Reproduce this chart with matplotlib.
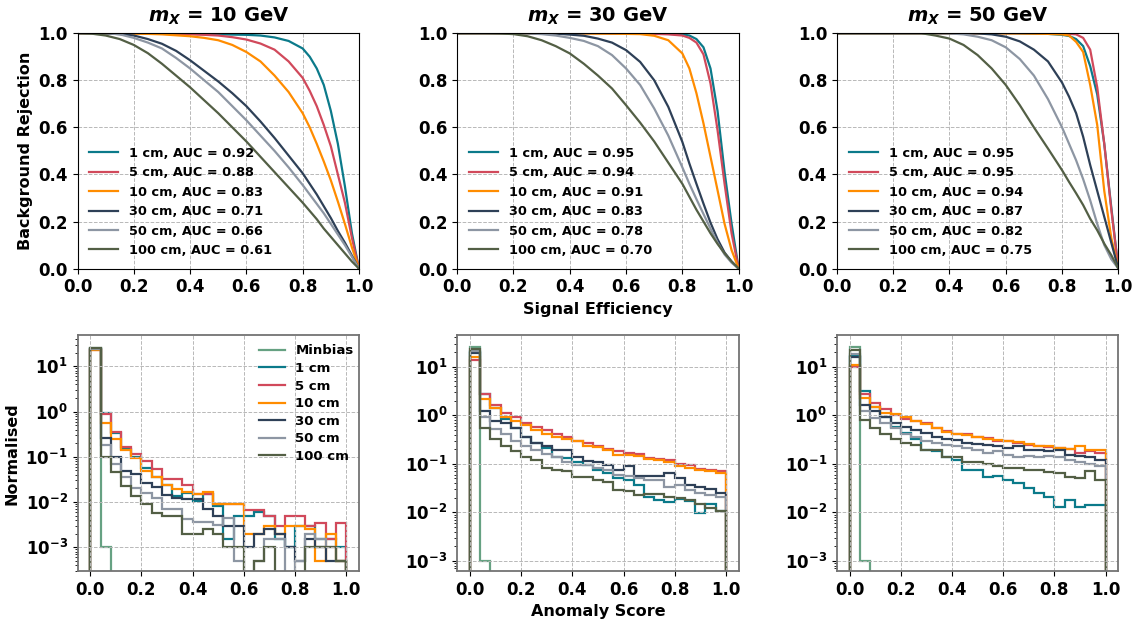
import numpy as np
import matplotlib
matplotlib.use("Agg")
import matplotlib.pyplot as plt

plt.rcParams['font.family'] = ['DejaVu Sans']
plt.rcParams['font.weight'] = 'bold'
plt.rcParams['axes.labelweight'] = 'bold'
plt.rcParams['axes.titleweight'] = 'bold'
plt.rcParams['mathtext.fontset'] = 'custom'
plt.rcParams['mathtext.it'] = 'DejaVu Sans:italic:bold'
plt.rcParams['mathtext.rm'] = 'DejaVu Sans:bold'

masses = [10, 30, 50]
lifetimes = ["1 cm", "5 cm", "10 cm", "30 cm", "50 cm", "100 cm"]
colors = ["#0b7a8a", "#d1495b", "#ff8c00", "#2e4057", "#8d96a3", "#535f45"]
minbias_color = "#66a182"

# signal efficiency points where the ROC curves were read
eff = [0, 0.05, 0.1, 0.15, 0.2, 0.25, 0.3, 0.35, 0.4, 0.45, 0.5, 0.55, 0.6, 0.65,
       0.7, 0.75, 0.8, 0.825, 0.85, 0.875, 0.9, 0.925, 0.95, 0.975, 1.0]

# background rejection, m_X = 10 GeV
rej_10 = [
    [1, 1, 1, 1, 1, 1, 0.999, 0.998, 0.997, 0.996, 0.995, 0.994, 0.993, 0.99, 0.982, 0.967, 0.935, 0.90, 0.85, 0.78, 0.67, 0.53, 0.35, 0.15, 0.0],
    [1, 1, 1, 1, 1, 0.999, 0.998, 0.997, 0.995, 0.993, 0.99, 0.983, 0.973, 0.956, 0.93, 0.88, 0.81, 0.755, 0.69, 0.61, 0.52, 0.40, 0.28, 0.13, 0.0],
    [1, 1, 1, 0.999, 0.998, 0.997, 0.995, 0.991, 0.987, 0.98, 0.97, 0.95, 0.92, 0.88, 0.82, 0.75, 0.66, 0.60, 0.53, 0.455, 0.375, 0.285, 0.19, 0.09, 0.0],
    [1, 1, 0.999, 0.996, 0.99, 0.975, 0.955, 0.925, 0.885, 0.84, 0.795, 0.745, 0.69, 0.625, 0.555, 0.48, 0.405, 0.36, 0.315, 0.265, 0.215, 0.16, 0.11, 0.055, 0.0],
    [1, 1, 1, 0.995, 0.98, 0.96, 0.935, 0.895, 0.85, 0.80, 0.75, 0.69, 0.63, 0.565, 0.50, 0.43, 0.355, 0.315, 0.275, 0.235, 0.19, 0.145, 0.10, 0.05, 0.0],
    [1, 0.998, 0.99, 0.975, 0.95, 0.915, 0.87, 0.82, 0.77, 0.715, 0.66, 0.60, 0.54, 0.475, 0.41, 0.345, 0.28, 0.245, 0.21, 0.17, 0.135, 0.10, 0.065, 0.03, 0.0],
]
# m_X = 30 GeV
rej_30 = [
    [1, 1, 1, 1, 1, 1, 1, 1, 1, 1, 1, 0.999, 0.999, 0.998, 0.998, 0.997, 0.995, 0.99, 0.975, 0.94, 0.85, 0.67, 0.41, 0.19, 0.0],
    [1, 1, 1, 1, 1, 1, 1, 1, 1, 1, 1, 0.999, 0.999, 0.998, 0.997, 0.995, 0.99, 0.98, 0.96, 0.91, 0.786, 0.588, 0.36, 0.149, 0.0],
    [1, 1, 1, 1, 1, 1, 1, 1, 0.999, 0.999, 0.998, 0.998, 0.997, 0.996, 0.989, 0.97, 0.914, 0.85, 0.745, 0.617, 0.475, 0.333, 0.19, 0.078, 0.0],
    [1, 1, 1, 1, 1, 1, 0.999, 0.998, 0.994, 0.989, 0.977, 0.96, 0.928, 0.878, 0.80, 0.687, 0.538, 0.446, 0.36, 0.276, 0.195, 0.125, 0.068, 0.03, 0.0],
    [1, 1, 1, 1, 1, 0.999, 0.996, 0.99, 0.98, 0.967, 0.945, 0.907, 0.85, 0.78, 0.68, 0.565, 0.43, 0.36, 0.295, 0.232, 0.17, 0.11, 0.06, 0.025, 0.0],
    [1, 1, 1, 0.999, 0.996, 0.987, 0.97, 0.945, 0.914, 0.87, 0.82, 0.765, 0.694, 0.62, 0.54, 0.45, 0.36, 0.305, 0.25, 0.2, 0.15, 0.105, 0.065, 0.03, 0.0],
]
# m_X = 50 GeV
rej_50 = [
    [1, 1, 1, 1, 1, 1, 1, 1, 1, 1, 1, 1, 1, 0.999, 0.998, 0.997, 0.993, 0.988, 0.975, 0.945, 0.86, 0.74, 0.53, 0.26, 0.0],
    [1, 1, 1, 1, 1, 1, 1, 1, 1, 1, 1, 1, 1, 1, 1, 0.999, 0.998, 0.997, 0.995, 0.98, 0.93, 0.77, 0.53, 0.25, 0.0],
    [1, 1, 1, 1, 1, 1, 1, 1, 1, 1, 1, 1, 0.999, 0.999, 0.998, 0.997, 0.995, 0.99, 0.963, 0.92, 0.78, 0.61, 0.33, 0.13, 0.0],
    [1, 1, 1, 1, 1, 1, 1, 1, 1, 1, 0.999, 0.995, 0.985, 0.965, 0.93, 0.88, 0.79, 0.73, 0.66, 0.56, 0.44, 0.33, 0.22, 0.11, 0.0],
    [1, 1, 1, 1, 1, 1, 1, 1, 0.999, 0.995, 0.985, 0.97, 0.94, 0.89, 0.82, 0.72, 0.60, 0.53, 0.46, 0.38, 0.29, 0.19, 0.10, 0.04, 0.0],
    [1, 1, 1, 1, 1, 1, 1, 0.99, 0.977, 0.95, 0.907, 0.85, 0.78, 0.694, 0.60, 0.51, 0.418, 0.368, 0.32, 0.27, 0.212, 0.163, 0.106, 0.057, 0.0],
]
auc_10 = [0.92, 0.88, 0.83, 0.71, 0.66, 0.61]
auc_30 = [0.95, 0.94, 0.91, 0.83, 0.78, 0.70]
auc_50 = [0.95, 0.95, 0.94, 0.87, 0.82, 0.75]

# anomaly score histograms, 25 bins between 0 and 1
edges = np.linspace(0, 1, 26)
minbias = [25, 0.001, 0, 0, 0, 0, 0, 0, 0, 0, 0, 0, 0, 0, 0, 0, 0, 0, 0, 0, 0, 0, 0, 0, 0]

hist_10 = [
    [24, 0.95, 0.34, 0.15, 0.097, 0.056, 0.035, 0.024, 0.0133, 0.0157, 0.0107, 0.015, 0.008, 0.0015, 0.005, 0.005, 0.006, 0.005, 0.0015, 0.001, 0.003, 0.003, 0.0015, 0.0015, 0.001],
    [23, 0.86, 0.35, 0.166, 0.118, 0.082, 0.053, 0.033, 0.032, 0.024, 0.015, 0.015, 0.0092, 0.0092, 0.0092, 0.0068, 0.0068, 0.005, 0.003, 0.005, 0.005, 0.003, 0.0035, 0.0015, 0.0035],
    [23, 0.56, 0.25, 0.14, 0.092, 0.049, 0.035, 0.024, 0.019, 0.0166, 0.015, 0.017, 0.0092, 0.0092, 0.0092, 0.002, 0.002, 0.003, 0.002, 0.003, 0.003, 0.0025, 0.0005, 0.002, 0.0005],
    [24, 0.26, 0.097, 0.049, 0.042, 0.027, 0.022, 0.0145, 0.0122, 0.0118, 0.0118, 0.0071, 0.005, 0.003, 0.003, 0.001, 0.002, 0.0025, 0.002, 0.001, 0.0005, 0.0015, 0.001, 0.0005, 0.0005],
    [24, 0.18, 0.071, 0.035, 0.02, 0.0157, 0.0122, 0.0071, 0.0071, 0.0043, 0.0036, 0.0036, 0.0031, 0.0045, 0.0005, 0, 0.0005, 0.0015, 0.0015, 0, 0.0005, 0.002, 0.0015, 0.001, 0.0005],
    [24.8, 0.1, 0.045, 0.023, 0.0133, 0.0092, 0.0056, 0.005, 0.005, 0.002, 0.002, 0.0025, 0.002, 0.001, 0.001, 0, 0.0005, 0.001, 0, 0, 0, 0.001, 0.001, 0.001, 0.0005],
]
hist_30 = [
    [20, 2.8, 1.38, 0.82, 0.55, 0.35, 0.27, 0.21, 0.14, 0.13, 0.11, 0.095, 0.076, 0.064, 0.051, 0.047, 0.037, 0.021, 0.018, 0.016, 0.019, 0.017, 0.0097, 0.015, 0.0104],
    [14, 2.7, 1.6, 1.13, 0.92, 0.70, 0.58, 0.5, 0.42, 0.36, 0.3, 0.27, 0.23, 0.2, 0.18, 0.17, 0.16, 0.13, 0.125, 0.12, 0.10, 0.095, 0.078, 0.073, 0.07],
    [15.5, 2.2, 1.38, 0.92, 0.77, 0.63, 0.5, 0.42, 0.36, 0.32, 0.29, 0.23, 0.22, 0.19, 0.15, 0.15, 0.145, 0.125, 0.12, 0.11, 0.088, 0.082, 0.076, 0.07, 0.066],
    [19, 1.24, 0.77, 0.68, 0.55, 0.35, 0.27, 0.23, 0.19, 0.19, 0.14, 0.115, 0.11, 0.095, 0.076, 0.09, 0.057, 0.055, 0.055, 0.064, 0.051, 0.037, 0.034, 0.03, 0.025],
    [21, 0.92, 0.51, 0.42, 0.29, 0.23, 0.19, 0.16, 0.14, 0.11, 0.095, 0.095, 0.082, 0.076, 0.06, 0.055, 0.051, 0.047, 0.047, 0.034, 0.037, 0.029, 0.025, 0.023, 0.021],
    [23, 0.54, 0.32, 0.23, 0.18, 0.14, 0.117, 0.082, 0.076, 0.07, 0.053, 0.053, 0.047, 0.042, 0.029, 0.027, 0.023, 0.024, 0.024, 0.021, 0.02, 0.018, 0.015, 0.012, 0.0104],
]
hist_50 = [
    [17, 3.1, 1.5, 0.93, 0.58, 0.44, 0.32, 0.19, 0.18, 0.14, 0.12, 0.075, 0.075, 0.053, 0.055, 0.047, 0.04, 0.032, 0.025, 0.021, 0.013, 0.018, 0.013, 0.014, 0.014],
    [10, 2.8, 1.8, 1.33, 1.0, 0.85, 0.77, 0.68, 0.54, 0.48, 0.42, 0.41, 0.36, 0.34, 0.3, 0.29, 0.27, 0.24, 0.23, 0.22, 0.21, 0.2, 0.17, 0.18, 0.165],
    [11, 2.3, 1.5, 1.13, 1.04, 0.9, 0.77, 0.66, 0.54, 0.46, 0.41, 0.39, 0.36, 0.32, 0.31, 0.29, 0.28, 0.26, 0.23, 0.23, 0.21, 0.2, 0.23, 0.195, 0.19],
    [16, 1.6, 1.2, 0.93, 0.68, 0.56, 0.5, 0.44, 0.36, 0.32, 0.31, 0.27, 0.26, 0.245, 0.23, 0.21, 0.23, 0.19, 0.19, 0.18, 0.19, 0.15, 0.145, 0.14, 0.12],
    [18, 1.23, 0.86, 0.7, 0.54, 0.41, 0.36, 0.3, 0.27, 0.245, 0.23, 0.21, 0.19, 0.17, 0.18, 0.15, 0.14, 0.145, 0.14, 0.145, 0.14, 0.12, 0.11, 0.1, 0.09],
    [21.6, 0.8, 0.54, 0.42, 0.32, 0.27, 0.245, 0.19, 0.19, 0.14, 0.14, 0.11, 0.108, 0.1, 0.09, 0.082, 0.082, 0.076, 0.074, 0.067, 0.064, 0.053, 0.05, 0.07, 0.047],
]

rejections = [rej_10, rej_30, rej_50]
aucs = [auc_10, auc_30, auc_50]
hists = [hist_10, hist_30, hist_50]
hist_ylims = [(3e-4, 48), (6.2e-4, 44), (6.2e-4, 44)]

fig, axes = plt.subplots(2, 3, figsize=(11.4, 6.26), dpi=100)
plt.subplots_adjust(left=0.068, right=0.981, top=0.947, bottom=0.088, wspace=0.349, hspace=0.284)

ticks = [0.0, 0.2, 0.4, 0.6, 0.8, 1.0]
for j in range(3):
    # ROC curves
    ax = axes[0, j]
    for k in range(len(lifetimes)):
        ax.plot(eff, rejections[j][k], color=colors[k], lw=1.6,
                label=lifetimes[k] + ", AUC = %.2f" % aucs[j][k])
    ax.set_xlim(0, 1)
    ax.set_ylim(0, 1)
    ax.set_xticks(ticks)
    ax.set_yticks(ticks)
    ax.grid(True, linestyle='--', color='0.72', linewidth=0.7)
    ax.set_title(r"$m_X$ = %d GeV" % masses[j], fontsize=14, pad=8)
    ax.tick_params(labelsize=12)
    ax.legend(loc='lower left', frameon=False, fontsize=9.3,
              handlelength=2.25, handletextpad=0.85)

    # anomaly score histograms
    ax = axes[1, j]
    ax.stairs(minbias, edges, color=minbias_color, lw=1.6, label="Minbias")
    for k in range(len(lifetimes)):
        ax.stairs(hists[j][k], edges, color=colors[k], lw=1.6, label=lifetimes[k])
    ax.set_yscale('log')
    ax.set_xlim(-0.05, 1.05)
    ax.set_ylim(*hist_ylims[j])
    ax.set_xticks(ticks)
    ax.grid(True, linestyle='--', color='0.72', linewidth=0.7)
    ax.tick_params(labelsize=12)
    for s in ax.spines.values():
        s.set_color('0.45')
        s.set_linewidth(1.3)

axes[0, 0].set_ylabel("Background Rejection", fontsize=11.5)
axes[0, 1].set_xlabel("Signal Efficiency", fontsize=11.5)
axes[1, 0].set_ylabel("Normalised", fontsize=11.5)
axes[1, 1].set_xlabel("Anomaly Score", fontsize=11.5)
axes[1, 0].legend(loc='upper right', frameon=False, fontsize=9.5, borderaxespad=0.0,
                  bbox_to_anchor=(1.0, 0.985), handlelength=2.0, labelspacing=0.35)

plt.savefig("out.png", dpi=100)
